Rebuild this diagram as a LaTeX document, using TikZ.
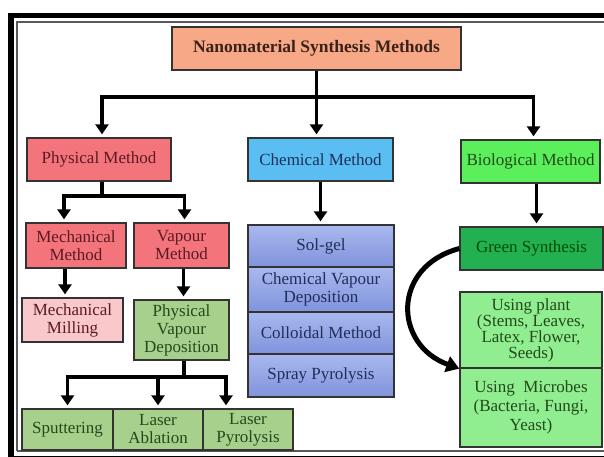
\documentclass[tikz,border=0pt]{standalone}
\usepackage{fontspec}
\setmainfont{Liberation Serif}
\usetikzlibrary{arrows.meta,positioning}

\definecolor{peach}{HTML}{F7A887}
\definecolor{coral}{HTML}{F4747B}
\definecolor{rosy}{HTML}{F8C8CB}
\definecolor{olive}{HTML}{A8D08D}
\definecolor{sky}{HTML}{5BBEF2}
\definecolor{lime}{HTML}{5CEF5C}
\definecolor{emerald}{HTML}{22B052}
\definecolor{mint}{HTML}{90EE90}
\definecolor{periTop}{HTML}{A9B8EE}
\definecolor{periBot}{HTML}{8093DC}
\definecolor{redtxt}{HTML}{5B1A24}
\definecolor{bluetxt}{HTML}{1E2F5A}
\definecolor{greentxt}{HTML}{234A1A}
\definecolor{darktxt}{HTML}{3B2218}

\tikzset{
  box/.style={draw=black!80, line width=1.3pt, align=center, inner sep=1pt,
    font=\fontsize{17}{18}\selectfont},
  redbox/.style={box, fill=coral, text=redtxt},
  greenbox/.style={box, fill=olive, text=greentxt},
  stackbox/.style={box, top color=periTop, bottom color=periBot, text=bluetxt,
    minimum width=146pt},
  link/.style={line width=3.5pt, -{Triangle[width=13pt,length=10pt]}, shorten >=3pt},
  bar/.style={line width=3.5pt}
}

\begin{document}
\begin{tikzpicture}[x=1pt,y=1pt]
\useasboundingbox (0,0) rectangle (604,-456);

% double frame
\draw[line width=5.5pt] (11,-470) -- (11,-15.5) -- (620,-15.5);
\draw[line width=1.2pt, black!65] (17,-451) -- (17,-22) -- (620,-22);
\draw[line width=1.2pt, black!65] (17,-451) -- (620,-451);
\draw[line width=4pt] (11,-457.5) -- (620,-457.5);

% top level
\node[box, fill=peach, text=darktxt, font=\bfseries\fontsize{17.5}{19}\selectfont,
  minimum width=289pt, minimum height=43pt] (title) at (316.5,-48.5) {Nanomaterial Synthesis Methods};

\node[redbox, minimum width=144pt, minimum height=43pt] (phys) at (99,-159.5) {Physical Method};
\node[box, fill=sky, text=bluetxt, minimum width=145pt, minimum height=43pt] (chem) at (320.5,-159.5) {Chemical Method};
\node[box, fill=lime, text=greentxt, minimum width=139pt, minimum height=43pt] (bio) at (530.5,-161.5) {Biological Method};

% physical branch
\node[redbox, minimum width=100pt, minimum height=45pt] (mech) at (76,-245.5) {Mechanical\\Method};
\node[redbox, minimum width=95pt, minimum height=45pt] (vap) at (181.5,-245.5) {Vapour\\Method};
\node[box, fill=rosy, text=redtxt, minimum width=101pt, minimum height=44pt] (mill) at (72.5,-320) {Mechanical\\Milling};
\node[greenbox, minimum width=95pt, minimum height=60pt] (pvd) at (181.5,-330) {Physical\\Vapour\\Deposition};
\node[greenbox, minimum width=91pt, minimum height=41pt] (sput) at (67.5,-429.5) {Sputtering};
\node[greenbox, minimum width=90pt, minimum height=41pt] (abl) at (158,-429.5) {Laser\\Ablation};
\node[greenbox, minimum width=90pt, minimum height=41pt] (pyr) at (248,-429.5) {Laser\\Pyrolysis};

% chemical branch
\node[stackbox, minimum height=42pt] (solgel) at (321,-246) {Sol-gel};
\node[stackbox, minimum height=45pt] (cvd) at (321,-289.5) {Chemical Vapour\\Deposition};
\node[stackbox, minimum height=42pt] (coll) at (321,-333) {Colloidal Method};
\node[stackbox, minimum height=43pt] (spray) at (321,-375.5) {Spray Pyrolysis};

% biological branch
\node[box, fill=emerald, text=green!30!black, minimum width=143pt, minimum height=43pt] (green) at (531.5,-248.5) {Green Synthesis};
\node[box, fill=mint, text=greentxt, font=\fontsize{17}{16}\selectfont,
  minimum width=142pt, minimum height=76pt] (plant) at (531,-330) {Using plant\\(Stems, Leaves,\\Latex, Flower,\\Seeds)};
\node[box, fill=mint, text=greentxt, font=\fontsize{17}{19}\selectfont,
  minimum width=142pt, minimum height=79pt] (microbe) at (531,-407.5) {Using\ \ Microbes\\(Bacteria, Fungi,\\Yeast)};

% connectors
\coordinate (hub) at (316.5,-97);
\draw[link] (title.south) -- (title.south |- chem.north);
\draw[link] (hub) -| ([xshift=3pt]phys.north);
\draw[link] (hub) -| ([xshift=3pt]bio.north);

\coordinate (pj) at (102,-196);
\draw[bar] ([xshift=3pt]phys.south) -- (pj);
\draw[link] (pj) -| ([xshift=-12pt]mech.north);
\draw[link] (pj) -| ([xshift=3pt]vap.north);
\draw[link] ([xshift=-11pt]mech.south) -- ([xshift=-11pt]mech.south |- mill.north);
\draw[link] ([xshift=2pt]vap.south) -- ([xshift=2pt]vap.south |- pvd.north);

\coordinate (pvj) at (184,-377);
\draw[bar] ([xshift=2.5pt]pvd.south) -- (pvj);
\draw[link] (pvj) -| (sput.north);
\draw[link] (pvj) -| (abl.north);
\draw[link] (pvj) -| ([xshift=-22pt]pyr.north);

\draw[link] (chem.south) -- (chem.south |- solgel.north);
\draw[link] ([xshift=6pt]bio.south) -- ([xshift=6pt]bio.south |- green.north);

\draw[line width=5pt, -{Triangle[width=16pt,length=13pt]}]
  (green.west) to[out=195, in=160, looseness=1.5] (plant.south west);
\end{tikzpicture}
\end{document}
